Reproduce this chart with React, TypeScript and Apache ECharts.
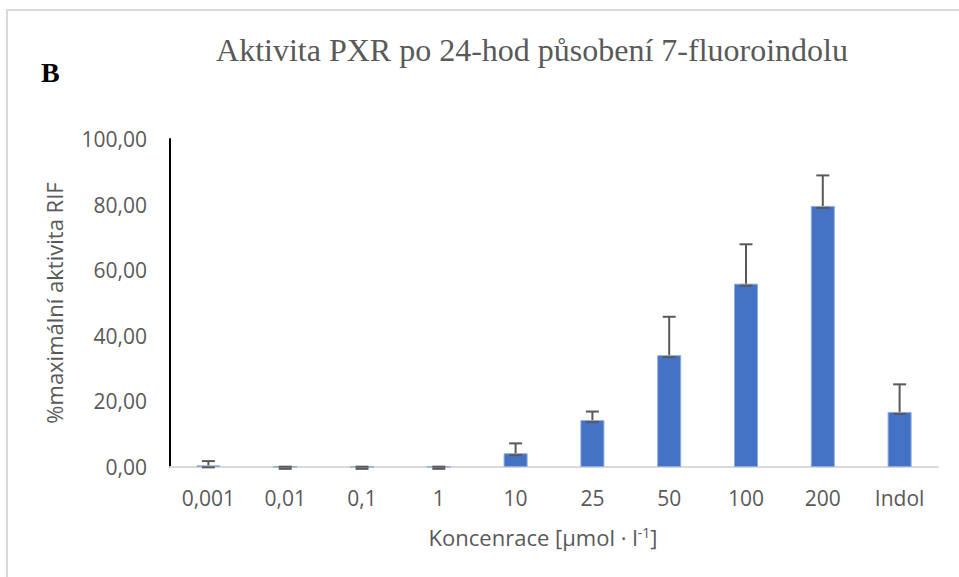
import React, { useEffect, useRef } from "react";
import * as echarts from "echarts";

const categories = ["0,001", "0,01", "0,1", "1", "10", "25", "50", "100", "200", "Indol"];
const values = [0.5, 0.05, 0.05, 0.05, 4.2, 14.3, 34.1, 55.9, 79.6, 16.8];
const errors = [1.3, 0.05, 0.05, 0.05, 3.0, 2.6, 11.7, 12.0, 9.3, 8.4];
const yTicks = [0, 20, 40, 60, 80, 100];

const titleText = "Aktivita PXR po 24-hod působení 7-fluoroindolu";
const yName = "%maximální aktivita RIF";

export default function App() {
  const ref = useRef<HTMLDivElement>(null);
  useEffect(() => {
    if (!ref.current) return;
    const chart = echarts.init(ref.current, null, { renderer: "svg" });
    const gray = "#595959";
    const font = "Open Sans";
    const errData = values.map((v, i) => [i, v, v + errors[i]]);
    chart.setOption({
      animation: false,
      backgroundColor: "#ffffff",
      grid: { left: 170, right: 21, top: 139, bottom: 110, containLabel: false },
      xAxis: {
        type: "category",
        data: categories,
        axisLine: { lineStyle: { color: "#d9d9d9", width: 2 } },
        axisTick: { show: false },
        axisLabel: { color: gray, fontFamily: font, fontSize: 21, margin: 20 },
        splitLine: { show: false },
      },
      yAxis: {
        type: "value",
        min: yTicks[0],
        max: yTicks[yTicks.length - 1],
        interval: 20,
        axisLine: { show: true, lineStyle: { color: "#000000", width: 2 } },
        axisTick: { show: false },
        splitLine: { show: false },
        axisLabel: {
          color: gray,
          fontFamily: font,
          fontSize: 21,
          margin: 23,
          formatter: (v: number) => v.toFixed(2).replace(".", ","),
        },
      },
      graphic: [
        {
          type: "rect",
          shape: { x: 7, y: 10, width: 960, height: 580 },
          style: { fill: "none", stroke: "#d9d9d9", lineWidth: 2 },
          silent: true,
        },
        {
          type: "text",
          x: 532,
          y: 50,
          style: {
            text: titleText,
            fill: gray,
            font: "32px 'Liberation Serif', 'Times New Roman', serif",
            align: "center",
            verticalAlign: "middle",
          },
        },
        {
          type: "text",
          x: 41,
          y: 72,
          style: {
            text: "B",
            fill: "#000000",
            font: "bold 28px 'Liberation Serif', 'Times New Roman', serif",
            align: "left",
            verticalAlign: "middle",
          },
        },
        {
          type: "text",
          x: 54,
          y: 303,
          rotation: Math.PI / 2,
          style: {
            text: yName,
            fill: gray,
            font: `22px '${font}'`,
            align: "center",
            verticalAlign: "middle",
          },
        },
        {
          type: "text",
          x: 543,
          y: 537,
          style: {
            text: "{a|Koncenrace [µmol · l}{s|-1}{a|]}",
            align: "center",
            verticalAlign: "middle",
            rich: {
              a: { fill: gray, fontFamily: font, fontSize: 22 },
              s: { fill: gray, fontFamily: font, fontSize: 14, padding: [0, 0, 10, 0] },
            },
          },
        },
      ],
      series: [
        {
          type: "bar",
          data: values,
          barWidth: 24,
          itemStyle: { color: "#4472C4", borderColor: "#8faadc", borderWidth: 1 },
        },
        {
          type: "custom",
          data: errData,
          z: 10,
          renderItem: (params: any, api: any) => {
            const i = api.value(0);
            const lo = api.coord([i, api.value(1)]);
            const hi = api.coord([i, api.value(2)]);
            const half = 6.5;
            const st = { stroke: "#595959", lineWidth: 2 };
            return {
              type: "group",
              children: [
                { type: "line", shape: { x1: lo[0], y1: lo[1], x2: hi[0], y2: hi[1] }, style: st },
                { type: "line", shape: { x1: hi[0] - half, y1: hi[1], x2: hi[0] + half, y2: hi[1] }, style: st },
                { type: "line", shape: { x1: lo[0] - half, y1: lo[1] + 2, x2: lo[0] + half, y2: lo[1] + 2 }, style: st },
              ],
            };
          },
        },
      ],
    });
    return () => chart.dispose();
  }, []);
  return (
    <div
      ref={ref}
      style={{ position: "absolute", left: 0, top: 0, width: 959, height: 577 }}
    />
  );
}
